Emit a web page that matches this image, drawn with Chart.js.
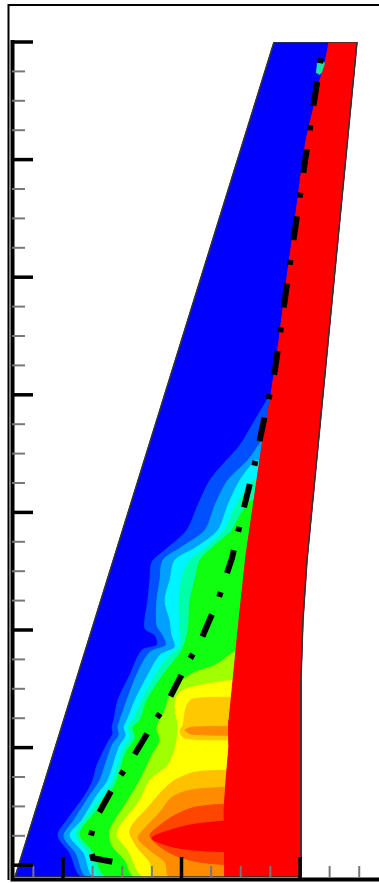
<!DOCTYPE html>
<html>
<head>
<meta charset="utf-8">
<script src="https://cdn.jsdelivr.net/npm/chart.js@4.4.1/dist/chart.umd.min.js"></script>
<style>
  html, body { margin: 0; padding: 0; background: #fff; }
  canvas { display: block; }
</style>
</head>
<body>
<canvas id="wingChart" width="379" height="883"></canvas>
<script>
// all coordinates in tick units (x: chordwise, y: spanwise)
const wingOutline = [[-0.405, -0.1], [1.781, 7.0], [2.481, 7.0], [2.059, 2.594], [2.025, 2.083], [2.008, 1.573], [2.008, -0.1], [-0.405, -0.1]];
const trailingEdge = [[2.008, -0.1], [2.008, 1.573], [2.025, 2.083], [2.059, 2.594], [2.481, 7.0]];

// contour edges, tip side first, down to the root
const redEdge = [[2.245, 7.0], [2.211, 6.820], [2.169, 6.675], [2.110, 6.420], [2.051, 6.165], [2.025, 5.995], [1.958, 5.485], [1.890, 5.0], [1.823, 4.464], [1.755, 3.997], [1.679, 3.571], [1.612, 3.104], [1.544, 2.636], [1.485, 2.083], [1.435, 1.573], [1.401, 1.233], [1.401, 1.020], [1.376, 0.723], [1.359, 0.468], [1.367, -0.1]];
const lightBlueEdge = [[1.747, 3.997], [1.620, 3.784], [1.494, 3.571], [1.367, 3.427], [1.241, 3.274], [1.139, 3.061], [1.046, 2.849], [0.861, 2.679], [0.751, 2.577], [0.734, 2.423], [0.717, 2.253], [0.692, 2.015], [0.776, 1.956], [0.793, 1.871], [0.667, 1.828], [0.565, 1.616], [0.464, 1.403], [0.430, 1.233], [0.414, 1.173], [0.422, 1.122], [0.380, 1.046], [0.287, 0.850], [0.253, 0.723], [0.186, 0.595], [0.034, 0.383], [-0.042, 0.255], [0.059, 0.102], [0.169, -0.1]];
const skyBlueEdge = [[1.679, 3.614], [1.561, 3.444], [1.392, 3.274], [1.283, 3.061], [1.198, 2.849], [0.987, 2.696], [0.844, 2.594], [0.819, 2.423], [0.793, 2.253], [0.793, 2.041], [0.844, 1.956], [0.869, 1.871], [0.734, 1.811], [0.633, 1.641], [0.540, 1.403], [0.481, 1.233], [0.464, 1.173], [0.473, 1.105], [0.414, 1.020], [0.312, 0.723], [0.228, 0.595], [0.093, 0.383], [0.008, 0.247], [0.110, 0.102], [0.211, -0.1]];
const cyanEdge = [[1.620, 3.444], [1.494, 3.274], [1.392, 3.061], [1.308, 2.849], [1.114, 2.696], [0.945, 2.594], [0.903, 2.423], [0.861, 2.253], [0.903, 2.083], [0.920, 1.956], [0.945, 1.854], [0.819, 1.786], [0.717, 1.616], [0.608, 1.403], [0.549, 1.250], [0.515, 1.173], [0.532, 1.105], [0.473, 1.003], [0.380, 0.723], [0.287, 0.595], [0.160, 0.383], [0.059, 0.255], [0.177, 0.102], [0.270, -0.1]];
const aquaEdge = [[1.600, 3.274], [1.460, 3.061], [1.360, 2.849], [1.200, 2.696], [1.072, 2.594], [1.000, 2.423], [0.980, 2.253], [0.985, 2.041], [0.990, 1.871], [0.880, 1.760], [0.780, 1.616], [0.667, 1.403], [0.600, 1.250], [0.549, 1.173], [0.570, 1.092], [0.505, 0.980], [0.422, 0.723], [0.330, 0.580], [0.110, 0.272], [0.212, 0.110], [0.329, -0.1]];
const greenEdge = [[1.578, 3.104], [1.494, 2.976], [1.426, 2.849], [1.283, 2.721], [1.156, 2.594], [1.114, 2.423], [1.072, 2.253], [1.055, 1.998], [1.004, 1.828], [0.861, 1.641], [0.709, 1.403], [0.650, 1.233], [0.591, 1.173], [0.608, 1.080], [0.532, 0.961], [0.456, 0.723], [0.363, 0.553], [0.143, 0.272], [0.245, 0.128], [0.380, -0.1]];
const limeEdge = [[1.460, 1.828], [1.283, 1.701], [1.114, 1.641], [0.987, 1.556], [0.903, 1.446], [0.861, 1.318], [0.793, 1.173], [0.819, 1.063], [0.751, 0.935], [0.650, 0.723], [0.549, 0.553], [0.397, 0.298], [0.414, 0.170], [0.523, 0.043], [0.608, -0.1]];
const yellowEdge = [[1.435, 1.573], [1.156, 1.531], [0.987, 1.471], [0.945, 1.361], [0.970, 1.190], [0.954, 1.020], [0.886, 0.850], [0.734, 0.723], [0.650, 0.553], [0.456, 0.272], [0.549, 0.128], [0.692, -0.1]];
const goldEdge = [[1.376, 0.808], [1.114, 0.791], [0.945, 0.723], [0.844, 0.638], [0.734, 0.510], [0.565, 0.298], [0.633, 0.145], [0.734, 0.026], [0.776, -0.1]];
const orangeEdge = [[1.367, 0.663], [1.072, 0.638], [0.920, 0.578], [0.819, 0.451], [0.692, 0.315], [0.633, 0.230], [0.734, 0.128], [0.861, 0.026], [0.903, -0.1]];

// closed islands
const goldPatch = [[1.45, 1.429], [1.089, 1.412], [1.038, 1.335], [1.013, 1.190], [0.987, 1.139], [1.030, 1.080], [1.45, 1.063]];
const orangeStreak = [[1.45, 1.182], [1.089, 1.173], [1.030, 1.148], [1.089, 1.114], [1.45, 1.105]];
const redOrangeBlob = [[1.45, 0.527], [1.114, 0.493], [0.945, 0.425], [0.819, 0.340], [0.734, 0.255], [0.802, 0.170], [0.945, 0.085], [1.156, 0.026], [1.45, 0.0]];
const redBlob = [[1.45, 0.383], [1.114, 0.349], [0.903, 0.298], [0.751, 0.230], [0.903, 0.162], [1.114, 0.128], [1.45, 0.111]];
const tipPatch = [[2.143, 6.820], [2.203, 6.828], [2.194, 6.777], [2.169, 6.726], [2.135, 6.743]];

// dash-dot line
const shockLine = [[2.177, 6.862], [2.084, 6.267], [1.899, 5.0], [1.789, 4.209], [1.696, 3.784], [1.612, 3.384], [1.511, 2.976], [1.426, 2.611], [1.308, 2.253], [1.156, 1.896], [1.055, 1.726], [0.878, 1.378], [0.768, 1.216], [0.565, 0.876], [0.456, 0.723], [0.270, 0.383], [0.219, 0.187], [0.253, 0.060], [0.523, 0.009]];

// ticks (no labels)
const xMajorTicks = [0, 1, 2];
const xMinorTicks = [-0.25, 0.25, 0.5, 0.75, 1.25, 1.5, 1.75, 2.25, 2.5];
const yMajorTicks = [0, 1, 2, 3, 4, 5, 6, 7];
const yMinorTicks = [0.25, 0.5, 0.75, 1.25, 1.5, 1.75, 2.25, 2.5, 2.75, 3.25, 3.5, 3.75, 4.25, 4.5, 4.75, 5.25, 5.5, 5.75, 6.25, 6.5, 6.75];

// close an edge back through the red zone (hidden under it) so the band
// covers everything to the right of the edge
function toRedSide(edge) {
    const top = edge[0][1];
    return edge.concat([[1.85, -0.1], [1.85, 0.4], [1.85, top - 0.4], [1.85, top]]);
}

const layers = [
    { pts: wingOutline, color: '#0000ff', smooth: 0 },
    { pts: toRedSide(lightBlueEdge), color: '#0050ff', smooth: 0.3 },
    { pts: toRedSide(skyBlueEdge), color: '#00a0ff', smooth: 0.3 },
    { pts: toRedSide(cyanEdge), color: '#00f4ff', smooth: 0.3 },
    { pts: toRedSide(aquaEdge), color: '#00ffa8', smooth: 0.3 },
    { pts: toRedSide(greenEdge), color: '#10ff10', smooth: 0.3 },
    { pts: toRedSide(limeEdge), color: '#a0ff00', smooth: 0.3 },
    { pts: toRedSide(yellowEdge), color: '#ffff00', smooth: 0.3 },
    { pts: goldPatch, color: '#ffc800', smooth: 0.3 },
    { pts: orangeStreak, color: '#ff8c00', smooth: 0.3 },
    { pts: toRedSide(goldEdge), color: '#ffc000', smooth: 0.3 },
    { pts: toRedSide(orangeEdge), color: '#ff8c00', smooth: 0.3 },
    { pts: redOrangeBlob, color: '#ff4600', smooth: 0.3 },
    { pts: redBlob, color: '#ff0000', smooth: 0.3 },
    { pts: redEdge.concat(trailingEdge), color: '#ff0000', smooth: 0 },
    { pts: tipPatch, color: '#20e0a0', smooth: 0.3 }
];

const datasets = layers.map(function (l, i) {
    return {
        data: l.pts,
        showLine: true,
        fill: 'shape',
        tension: l.smooth,
        backgroundColor: l.color,
        borderColor: l.color,
        borderWidth: 1,
        pointRadius: 0,
        order: 100 - i
    };
});
datasets.push({
    data: wingOutline, showLine: true, fill: false,
    borderColor: '#333', borderWidth: 1.5, pointRadius: 0, order: 2
});
datasets.push({
    data: shockLine, showLine: true, fill: false,
    borderColor: '#000', borderWidth: 6, borderDash: [5, 19, 24, 20],
    pointRadius: 0, order: 1
});

// frame, axis lines and inward ticks
const axesPlugin = {
    id: 'frameAxes',
    afterDraw: function (chart) {
        const ctx = chart.ctx;
        const xs = chart.scales.x;
        const ys = chart.scales.y;
        const a = chart.chartArea;
        ctx.save();
        ctx.strokeStyle = '#000';
        ctx.lineCap = 'butt';

        ctx.lineWidth = 2;
        ctx.beginPath();
        ctx.moveTo(chart.width, 5);
        ctx.lineTo(8.5, 5);
        ctx.lineTo(8.5, 880);
        ctx.stroke();

        ctx.lineWidth = 4;
        ctx.beginPath();
        ctx.moveTo(a.left + 0.5, a.top - 2);
        ctx.lineTo(a.left + 0.5, a.bottom + 2.5);
        ctx.lineTo(a.right, a.bottom + 2.5);
        ctx.stroke();

        ctx.strokeStyle = '#777';
        ctx.lineWidth = 2;
        yMinorTicks.forEach(function (v) {
            const p = ys.getPixelForValue(v);
            ctx.beginPath(); ctx.moveTo(a.left, p); ctx.lineTo(a.left + 13, p); ctx.stroke();
        });
        xMinorTicks.forEach(function (v) {
            const p = xs.getPixelForValue(v);
            ctx.beginPath(); ctx.moveTo(p, a.bottom + 1); ctx.lineTo(p, a.bottom - 11); ctx.stroke();
        });

        ctx.strokeStyle = '#000';
        ctx.lineWidth = 3.5;
        yMajorTicks.forEach(function (v) {
            const p = ys.getPixelForValue(v);
            ctx.beginPath(); ctx.moveTo(a.left, p); ctx.lineTo(a.left + 21, p); ctx.stroke();
        });
        xMajorTicks.forEach(function (v) {
            const p = xs.getPixelForValue(v);
            ctx.beginPath(); ctx.moveTo(p, a.bottom + 1); ctx.lineTo(p, a.bottom - 20); ctx.stroke();
        });
        ctx.restore();
    }
};

const chart = new Chart(document.getElementById('wingChart').getContext('2d'), {
    type: 'scatter',
    data: { datasets: datasets },
    options: {
        responsive: false,
        animation: false,
        devicePixelRatio: 1,
        events: [],
        layout: { padding: { left: 12, top: 42, right: 0, bottom: 6 } },
        scales: {
            x: { type: 'linear', min: -0.4304, max: 2.6667, display: false },
            y: { type: 'linear', min: -0.1003, max: 7, display: false }
        },
        plugins: {
            legend: { display: false },
            tooltip: { enabled: false }
        }
    },
    plugins: [axesPlugin]
});
</script>
</body>
</html>
